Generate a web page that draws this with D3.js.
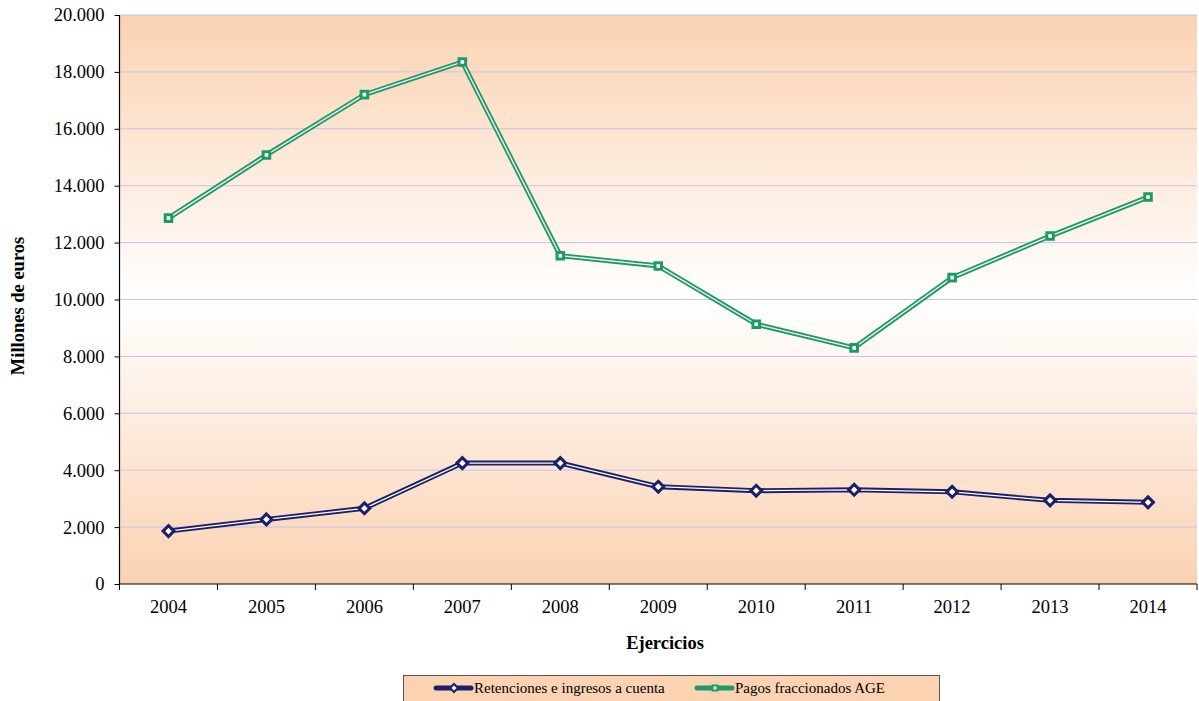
<!DOCTYPE html>
<html><head><meta charset="utf-8">
<script src="https://cdn.jsdelivr.net/npm/d3@7"></script>
<style>body{margin:0;background:#fff}svg{display:block;font-family:"Liberation Serif","Times New Roman",Times,serif}svg text{font-family:"Liberation Serif","Times New Roman",Times,serif}</style>
</head><body>
<svg id="c" width="1199" height="701"></svg>
<script>
const years = ["2004","2005","2006","2007","2008","2009","2010","2011","2012","2013","2014"];
const retenciones = [1860, 2270, 2660, 4250, 4250, 3420, 3280, 3310, 3240, 2940, 2870];
const pagos = [12860, 15080, 17200, 18350, 11540, 11180, 9130, 8300, 10770, 12230, 13600];
const yTicks = [0,2000,4000,6000,8000,10000,12000,14000,16000,18000,20000];
const seriesNames = ["Retenciones e ingresos a cuenta","Pagos fraccionados AGE"];

const svg = d3.select("#c");
const L=119.5, R=1197, T=15, B=584;
const x = d3.scaleBand().domain(years).range([L,R]);
const y = d3.scaleLinear().domain([0,20000]).range([B,T]);
const fmt = v => v===0 ? "0" : d3.format(",")(v).replace(/,/g,".");
const font = "Liberation Serif, Times New Roman, Times, serif";

const defs = svg.append("defs");
const g = defs.append("linearGradient").attr("id","bg").attr("x1",0).attr("y1",0).attr("x2",0).attr("y2",1);
g.append("stop").attr("offset","0%").attr("stop-color","#FBD2B2");
g.append("stop").attr("offset","50%").attr("stop-color","#FFFFFF");
g.append("stop").attr("offset","100%").attr("stop-color","#FBD2B2");

svg.append("rect").attr("x",L).attr("y",T).attr("width",R-L).attr("height",B-T).attr("fill","url(#bg)");

svg.append("g").selectAll("line").data(yTicks.filter(d=>d>0)).join("line")
  .attr("x1",L).attr("x2",R).attr("y1",d=>y(d)).attr("y2",d=>y(d))
  .attr("stroke","#C4C4E6").attr("stroke-width",1);

svg.append("line").attr("x1",L).attr("x2",L).attr("y1",T).attr("y2",B).attr("stroke","#000").attr("stroke-width",1.2);
svg.append("line").attr("x1",L).attr("x2",R).attr("y1",B).attr("y2",B).attr("stroke","#000").attr("stroke-width",1.2);

const ya = svg.append("g").attr("transform",`translate(${L},0)`)
  .call(d3.axisLeft(y).tickValues(yTicks).tickFormat(fmt).tickSize(5).tickPadding(10));
ya.attr("font-family",null).attr("font-size",null);
ya.select(".domain").remove();
ya.selectAll("text").attr("font-family",font).attr("font-size",18.5).attr("fill","#000");

const bounds = years.map(d=>x(d)).concat([R]);
svg.append("g").selectAll("line").data(bounds).join("line")
  .attr("x1",d=>d).attr("x2",d=>d).attr("y1",B).attr("y2",B+6).attr("stroke","#000");
svg.append("g").selectAll("text").data(years).join("text")
  .attr("x",d=>x(d)+x.bandwidth()/2).attr("y",B+29).attr("text-anchor","middle")
  .attr("font-family",font).attr("font-size",18.5).text(d=>d);

svg.append("text").attr("x",665).attr("y",649).attr("text-anchor","middle")
  .attr("font-family",font).attr("font-size",18.5).attr("font-weight","bold").text("Ejercicios");
svg.append("text").attr("transform","translate(24,306) rotate(-90)").attr("text-anchor","middle")
  .attr("font-family",font).attr("font-size",18.5).attr("font-weight","bold").text("Millones de euros");

const cx = d => x(d)+x.bandwidth()/2;
const line = d3.line().x((d,i)=>cx(years[i])).y(d=>y(d));
function drawSeries(data,color,shape){
  svg.append("path").datum(data).attr("d",line).attr("fill","none").attr("stroke",color).attr("stroke-width",5).attr("stroke-linejoin","miter");
  svg.append("path").datum(data).attr("d",line).attr("fill","none").attr("stroke","#fff").attr("stroke-width",1.3);
  const sym = d3.symbol().type(shape==="diamond"?d3.symbolDiamond2:d3.symbolSquare2).size(shape==="diamond"?75:55);
  svg.append("g").selectAll("path").data(data).join("path")
    .attr("transform",(d,i)=>`translate(${cx(years[i])},${y(d)})`)
    .attr("d",sym).attr("fill","#fff").attr("stroke",color).attr("stroke-width",3);
}
drawSeries(retenciones,"#1B1F6B","diamond");
drawSeries(pagos,"#1E9A64","square");

// legend
const lg = svg.append("g");
lg.append("rect").attr("x",403.5).attr("y",675.5).attr("width",536).attr("height",30)
  .attr("fill","#FBD3B3").attr("stroke","#555").attr("stroke-width",1);
const items = [{name:seriesNames[0],color:"#1B1F6B",shape:"diamond",x:436},{name:seriesNames[1],color:"#1E9A64",shape:"square",x:697}];
items.forEach(it=>{
  lg.append("line").attr("x1",it.x).attr("x2",it.x+35).attr("y1",688).attr("y2",688).attr("stroke",it.color).attr("stroke-width",5).attr("stroke-linecap","round");
  const sym = d3.symbol().type(it.shape==="diamond"?d3.symbolDiamond2:d3.symbolSquare2).size(it.shape==="diamond"?40:30);
  lg.append("path").attr("transform",`translate(${it.x+18},688)`).attr("d",sym).attr("fill","#fff").attr("stroke",it.color).attr("stroke-width",2);
  lg.append("text").attr("x",it.x+38).attr("y",693).attr("font-family",font).attr("font-size",15).text(it.name);
});
</script>
</body></html>
